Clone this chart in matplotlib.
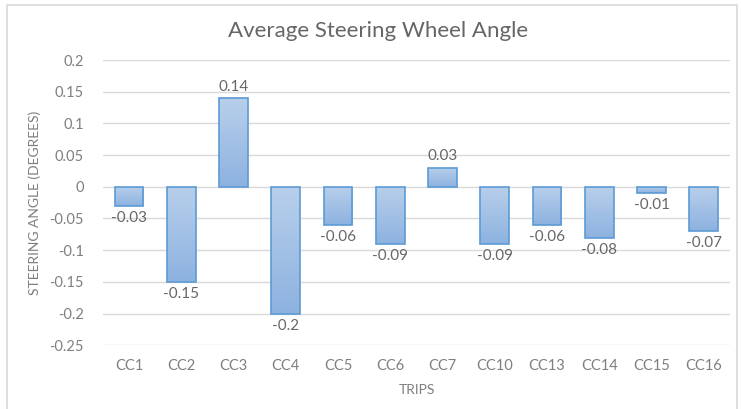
import numpy as np
import matplotlib.pyplot as plt
from matplotlib.patches import Rectangle
from matplotlib.colors import LinearSegmentedColormap

trips = ['CC1', 'CC2', 'CC3', 'CC4', 'CC5', 'CC6', 'CC7', 'CC10', 'CC13', 'CC14', 'CC15', 'CC16']
angles = [-0.03, -0.15, 0.14, -0.2, -0.06, -0.09, 0.03, -0.09, -0.06, -0.08, -0.01, -0.07]
yticks = [-0.25, -0.2, -0.15, -0.1, -0.05, 0, 0.05, 0.1, 0.15, 0.2]

plt.rcParams['font.family'] = ['Lato', 'DejaVu Sans']
grey = '#7f7f7f'

fig = plt.figure(figsize=(7.41, 4.09), dpi=100)
ax = fig.add_axes([0.139, 0.156, 0.846, 0.697])

x = np.arange(len(trips))
bars = ax.bar(x, angles, width=0.55, color='none', edgecolor='#5b9bd5', linewidth=1.2, zorder=3)

# gradient fill, light at the top and darker at the bottom of each bar
grad = np.linspace(0, 1, 100).reshape(-1, 1)
cmap = LinearSegmentedColormap.from_list('bargrad', ['#8db2e0', '#b8cfeb'])
for b in bars:
    x0, y0 = b.get_x(), b.get_y()
    w, h = b.get_width(), b.get_height()
    lo, hi = min(y0, y0 + h), max(y0, y0 + h)
    im = ax.imshow(grad, extent=[x0, x0 + w, lo, hi], origin='lower', cmap=cmap,
                   aspect='auto', zorder=2)
    im.set_clip_path(b)

for xi, v in zip(x, angles):
    if v >= 0:
        ax.text(xi, v + 0.007, f'{v:g}', ha='center', va='bottom', fontsize=11, color='#666666')
    else:
        ax.text(xi, v - 0.008, f'{v:g}', ha='center', va='top', fontsize=11, color='#666666')

ax.set_xlim(-0.5, len(trips) - 0.5)
ax.set_ylim(-0.25, 0.2)
ax.set_yticks(yticks)
ax.set_yticklabels([f'{t:g}' for t in yticks])
ax.set_xticks(x)
ax.set_xticklabels(trips)
ax.tick_params(colors=grey, labelsize=10.5, length=0, pad=10)
ax.tick_params(axis='y', pad=14)
ax.grid(axis='y', color='#d9d9d9', linewidth=1, zorder=0)
for s in ax.spines.values():
    s.set_visible(False)

fig.text(0.51, 0.925, 'Average Steering Wheel Angle', fontsize=16, color='#666666',
         ha='center', va='center')
ax.set_ylabel('STEERING ANGLE (DEGREES)', fontsize=10, color=grey, labelpad=6)
ax.set_xlabel('TRIPS', fontsize=10, color=grey, labelpad=8)

fig.patches.append(Rectangle((0.01, -0.01), 0.985, 0.998, transform=fig.transFigure,
                             fill=False, edgecolor='#d9d9d9', linewidth=1.2))

fig.savefig('out.png', dpi=100)
